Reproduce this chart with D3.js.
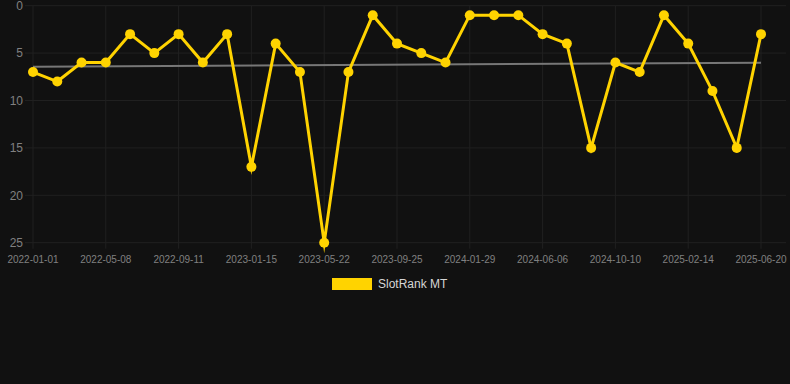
<!DOCTYPE html>
<html>
<head>
<meta charset="utf-8">
<script src="https://cdn.jsdelivr.net/npm/d3@7"></script>
<style>
  html, body { margin: 0; padding: 0; background: #111111; }
  svg { display: block; }
</style>
</head>
<body>
<svg id="chart" width="790" height="384"></svg>
<script>
const dates = [
  "2022-01-01","2022-02-12","2022-03-26","2022-05-08","2022-06-19","2022-07-31",
  "2022-09-11","2022-10-23","2022-12-04","2023-01-15","2023-02-26","2023-04-09",
  "2023-05-22","2023-07-03","2023-08-14","2023-09-25","2023-11-06","2023-12-18",
  "2024-01-29","2024-03-11","2024-04-23","2024-06-06","2024-07-18","2024-08-29",
  "2024-10-10","2024-11-21","2025-01-02","2025-02-14","2025-03-28","2025-05-09",
  "2025-06-20"
];
const ranks = [7,8,6,6,3,5,3,6,3,17,4,7,25,7,1,4,5,6,1,1,1,3,4,15,6,7,1,4,9,15,3];
const yTicks = [0,5,10,15,20,25];
const seriesName = "SlotRank MT";

const svg = d3.select("#chart");
const x = d3.scalePoint().domain(dates).range([33, 761]);
const y = d3.scaleLinear().domain([0, 25]).range([5.7, 242.7]);

const gridColor = "#202020";
const labelColor = "#808080";

// horizontal grid
svg.append("g").selectAll("line").data(yTicks).join("line")
  .attr("x1", 25).attr("x2", 786)
  .attr("y1", d => y(d)).attr("y2", d => y(d))
  .attr("stroke", gridColor).attr("stroke-width", 1);

// vertical grid at labelled categories
const labelled = dates.filter((d, i) => i % 3 === 0);
svg.append("g").selectAll("line").data(labelled).join("line")
  .attr("x1", d => x(d)).attr("x2", d => x(d))
  .attr("y1", y(0)).attr("y2", y(25) + 6)
  .attr("stroke", gridColor).attr("stroke-width", 1);

// y labels
svg.append("g").selectAll("text").data(yTicks).join("text")
  .attr("x", 23).attr("y", d => y(d))
  .attr("dy", "0.35em")
  .attr("text-anchor", "end")
  .attr("font-family", "Liberation Sans, Arial, sans-serif")
  .attr("font-size", 12)
  .attr("fill", labelColor)
  .text(d => d);

// x labels
svg.append("g").selectAll("text").data(labelled).join("text")
  .attr("x", d => x(d)).attr("y", 263)
  .attr("text-anchor", "middle")
  .attr("font-family", "Liberation Sans, Arial, sans-serif")
  .attr("font-size", 10)
  .attr("fill", labelColor)
  .text(d => d);

// trend line (least squares on index)
const n = ranks.length;
const xs = d3.range(n);
const mx = d3.mean(xs), my = d3.mean(ranks);
const slope = d3.sum(xs, i => (i - mx) * (ranks[i] - my)) / d3.sum(xs, i => (i - mx) ** 2);
const icpt = my - slope * mx;
svg.append("line")
  .attr("x1", x(dates[0])).attr("x2", x(dates[n - 1]))
  .attr("y1", y(icpt)).attr("y2", y(icpt + slope * (n - 1)))
  .attr("stroke", "#777777").attr("stroke-width", 2);

// series line
const lineColor = "#FFD300";
const line = d3.line().x((d, i) => x(dates[i])).y(d => y(d));
svg.append("path").datum(ranks)
  .attr("d", line)
  .attr("fill", "none")
  .attr("stroke", lineColor)
  .attr("stroke-width", 3)
  .attr("stroke-linejoin", "miter")
  .attr("stroke-miterlimit", 10);

svg.append("g").selectAll("circle").data(ranks).join("circle")
  .attr("cx", (d, i) => x(dates[i]))
  .attr("cy", d => y(d))
  .attr("r", 5)
  .attr("fill", lineColor);

// legend
const lg = svg.append("g");
lg.append("rect").attr("x", 332).attr("y", 278).attr("width", 40).attr("height", 12)
  .attr("fill", lineColor);
lg.append("text").attr("x", 378).attr("y", 284).attr("dy", "0.35em")
  .attr("font-family", "Liberation Sans, Arial, sans-serif")
  .attr("font-size", 12).attr("fill", "#d6d6d6")
  .text(seriesName);
</script>
</body>
</html>
